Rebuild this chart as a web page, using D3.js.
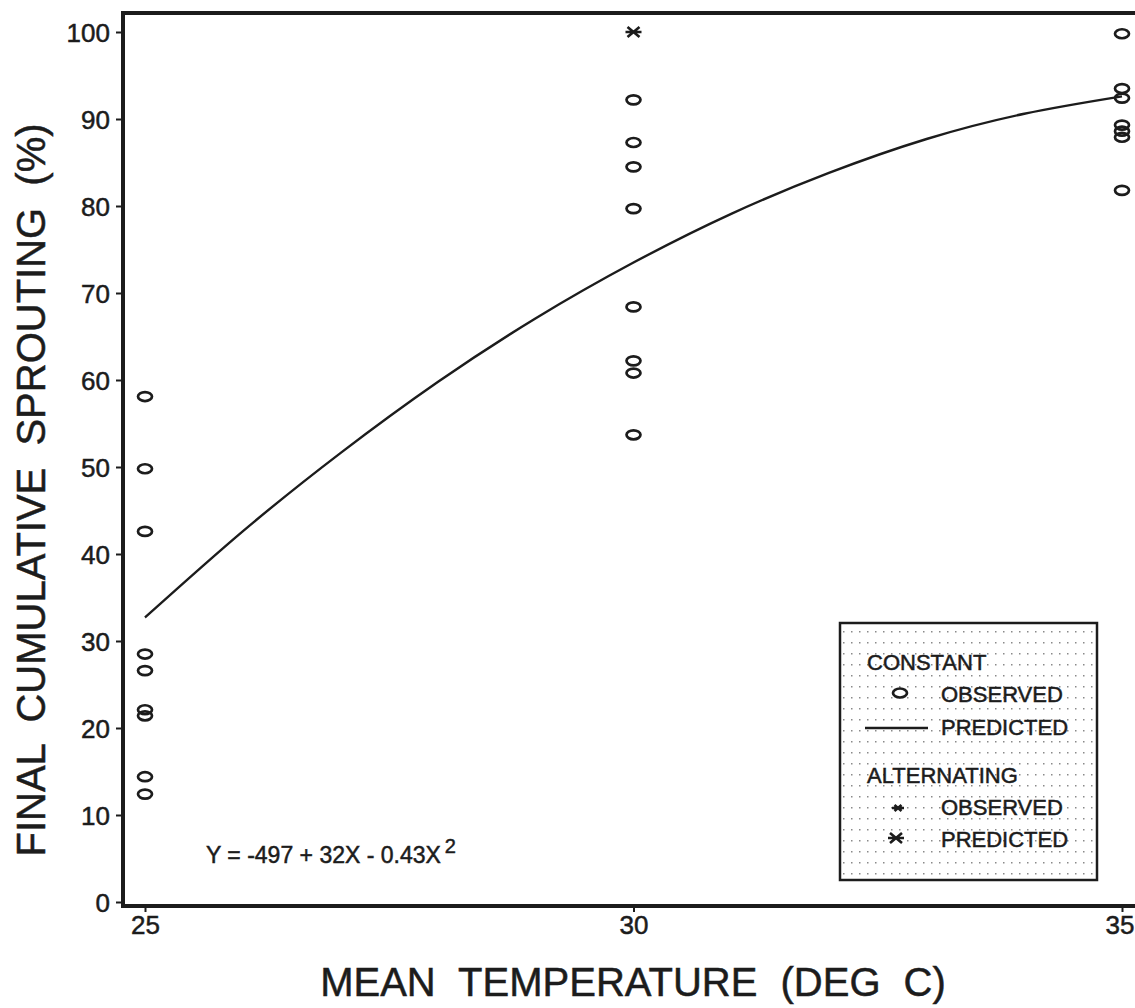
<!DOCTYPE html>
<html>
<head>
<meta charset="utf-8">
<script src="https://cdn.jsdelivr.net/npm/d3@7"></script>
<style>
  body { margin: 0; background: #fff; }
  svg { display: block; font-family: "Liberation Sans", Arial, sans-serif; }
  text { stroke: #1c1c1c; stroke-width: 0.5px; }
</style>
</head>
<body>
<script>
// Datos
const xTicks = [25, 30, 35];
const yTicks = [0, 10, 20, 30, 40, 50, 60, 70, 80, 90, 100];

// Observado, temperatura constante
const obs25 = [58.1, 49.8, 42.6, 28.5, 26.6, 22.1, 21.4, 14.4, 12.4];
const obs30 = [92.2, 87.3, 84.5, 79.7, 68.4, 62.2, 60.8, 53.7];
const obs35 = [99.8, 93.5, 92.4, 89.3, 88.6, 87.9, 81.8];

const predX = [25, 26, 27, 28, 29, 30, 31, 32, 33, 34, 35];
const predY = [32.7, 42.6, 51.6, 59.8, 67.1, 73.5, 79.1, 83.8, 87.7, 90.6, 92.6];

// Alternante predicho
const altPred = [[30, 100]];

const w = 1135;
const h = 1008;
const ink = "#1c1c1c";

const svg = d3.select("body").append("svg")
  .attr("width", w)
  .attr("height", h);

const x = d3.scaleLinear().domain([25, 35]).range([145, 1122]);
const y = d3.scaleLinear().domain([0, 100]).range([902, 32]);

const pLeft = 123, pTop = 13, pBottom = 906, pRight = 1160;

// Marco
svg.append("path")
  .attr("d", `M${pRight},${pTop} H${pLeft} V${pBottom} H${pRight}`)
  .attr("fill", "none")
  .attr("stroke", ink)
  .attr("stroke-width", 4);

// Eje Y
const yAxis = d3.axisLeft(y).tickValues(yTicks).tickSize(6).tickSizeOuter(0).tickPadding(6);
const gy = svg.append("g")
  .attr("transform", `translate(${pLeft - 1},0)`)
  .call(yAxis);
gy.select(".domain").remove();
gy.selectAll(".tick line").attr("stroke", ink).attr("stroke-width", 2);
gy.selectAll(".tick text")
  .attr("fill", ink)
  .style("font-size", "26px")
  .attr("dy", "0.36em");

// Eje X
const xAxis = d3.axisBottom(x).tickValues(xTicks).tickSize(5).tickSizeOuter(0).tickPadding(4);
const gx = svg.append("g")
  .attr("transform", `translate(0,${pBottom + 1})`)
  .call(xAxis);
gx.select(".domain").remove();
gx.selectAll(".tick line").attr("stroke", ink).attr("stroke-width", 2);
gx.selectAll(".tick text")
  .attr("fill", ink)
  .style("font-size", "26px");
// el ultimo rotulo queda pegado al borde derecho
gx.selectAll(".tick text")
  .filter(d => d === 35)
  .attr("text-anchor", "end")
  .attr("x", 12);

// Titulos de ejes
svg.append("text")
  .attr("x", 633)
  .attr("y", 996)
  .attr("text-anchor", "middle")
  .attr("fill", ink)
  .style("font-size", "40px")
  .style("word-spacing", "12px")
  .text("MEAN TEMPERATURE (DEG C)");

svg.append("text")
  .attr("transform", "translate(45,490) rotate(-90)")
  .attr("text-anchor", "middle")
  .attr("fill", ink)
  .style("font-size", "40px")
  .style("word-spacing", "11px")
  .text("FINAL CUMULATIVE SPROUTING (%)");

// Curva predicha
const line = d3.line()
  .x((d, i) => x(predX[i]))
  .y(d => y(d))
  .curve(d3.curveNatural);

svg.append("path")
  .datum(predY)
  .attr("d", line)
  .attr("fill", "none")
  .attr("stroke", ink)
  .attr("stroke-width", 2.4);

// Puntos observados
const obs = [];
obs25.forEach(v => obs.push([25, v]));
obs30.forEach(v => obs.push([30, v]));
obs35.forEach(v => obs.push([35, v]));

svg.selectAll("ellipse.obs")
  .data(obs)
  .enter()
  .append("ellipse")
  .attr("class", "obs")
  .attr("cx", d => x(d[0]))
  .attr("cy", d => y(d[1]))
  .attr("rx", 7)
  .attr("ry", 4.5)
  .attr("fill", "none")
  .attr("stroke", ink)
  .attr("stroke-width", 2.7);

// Asterisco
const starPath = "M-8,0H8M-6,-5L6,5M-6,5L6,-5";
svg.selectAll("path.alt")
  .data(altPred)
  .enter()
  .append("path")
  .attr("class", "alt")
  .attr("transform", d => `translate(${x(d[0])},${y(d[1])})`)
  .attr("d", starPath)
  .attr("stroke", ink)
  .attr("stroke-width", 2.6)
  .attr("fill", "none");

// Ecuacion
const eq = svg.append("text")
  .attr("x", 206)
  .attr("y", 863)
  .attr("fill", ink)
  .style("font-size", "23px");
eq.append("tspan").text("Y = -497 + 32X - 0.43X");
eq.append("tspan")
  .attr("dx", 4)
  .attr("dy", -10)
  .style("font-size", "20px")
  .text("2");

// Leyenda
const defs = svg.append("defs");
const pat = defs.append("pattern")
  .attr("id", "dots")
  .attr("width", 8)
  .attr("height", 11)
  .attr("patternUnits", "userSpaceOnUse");
pat.append("rect").attr("width", 8).attr("height", 11).attr("fill", "#fff");
pat.append("rect").attr("x", 3).attr("y", 4).attr("width", 1.5).attr("height", 1.5).attr("fill", "#8a8a8a");

const lg = svg.append("g");
lg.append("rect")
  .attr("x", 840)
  .attr("y", 623)
  .attr("width", 257)
  .attr("height", 257)
  .attr("fill", "url(#dots)")
  .attr("stroke", ink)
  .attr("stroke-width", 2.5);

const legendText = [
  { t: "CONSTANT", x: 867, y: 670 },
  { t: "OBSERVED", x: 941, y: 702 },
  { t: "PREDICTED", x: 941, y: 735 },
  { t: "ALTERNATING", x: 867, y: 783 },
  { t: "OBSERVED", x: 941, y: 815 },
  { t: "PREDICTED", x: 941, y: 847 }
];
lg.selectAll("text")
  .data(legendText)
  .enter()
  .append("text")
  .attr("x", d => d.x)
  .attr("y", d => d.y)
  .attr("fill", ink)
  .style("font-size", "22px")
  .text(d => d.t);

lg.append("ellipse")
  .attr("cx", 900).attr("cy", 693)
  .attr("rx", 7).attr("ry", 4.5)
  .attr("fill", "none").attr("stroke", ink).attr("stroke-width", 2.7);
lg.append("line")
  .attr("x1", 865).attr("x2", 928)
  .attr("y1", 728).attr("y2", 728)
  .attr("stroke", ink).attr("stroke-width", 2.4);
lg.append("path")
  .attr("transform", "translate(898,808)")
  .attr("d", "M-6,0H6M-3.5,-3L3.5,3M-3.5,3L3.5,-3")
  .attr("stroke", ink).attr("stroke-width", 2.6).attr("fill", "none");
lg.append("path")
  .attr("transform", "translate(896,838)")
  .attr("d", starPath)
  .attr("stroke", ink).attr("stroke-width", 2.6).attr("fill", "none");
</script>
</body>
</html>
